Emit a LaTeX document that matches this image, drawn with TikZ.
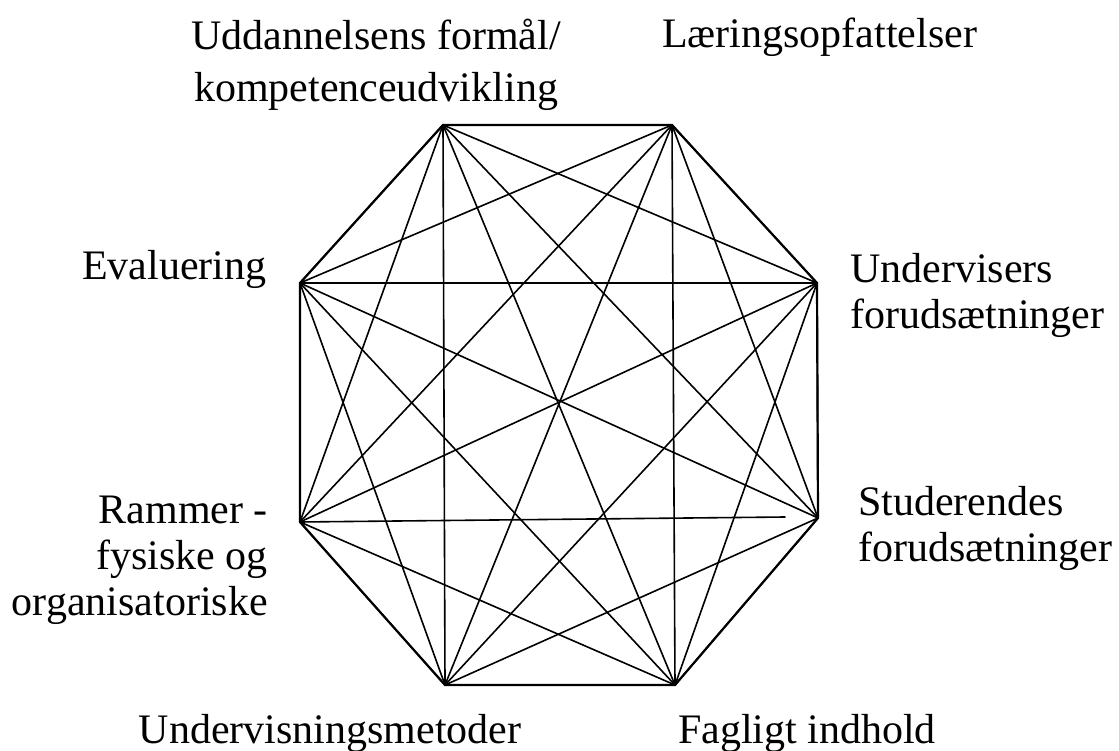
\documentclass[tikz,border=0pt]{standalone}
\usepackage{fontspec}
\setmainfont{Liberation Serif}

\begin{document}
\begin{tikzpicture}[
  x=1pt, y=-1pt,
  font=\fontsize{42}{46}\selectfont,
  lbl/.style={inner sep=0pt},
  edge/.style={line width=1.6pt, black, line cap=round},
  rim/.style={edge, line width=2.2pt}
]
\useasboundingbox (0,0) rectangle (1119,751);
% corners of the octagon
\coordinate (p1) at (443,125); % formaal
\coordinate (p2) at (672,125); % laering
\coordinate (p3) at (817,283); % undviser
\coordinate (p4) at (818,518); % studer
\coordinate (p5) at (675,685); % fagligt
\coordinate (p6) at (445,685); % metoder
\coordinate (p7) at (300,522); % rammer
\coordinate (p8) at (300,283); % evaluer
\coordinate (rammerend) at (785,517);
% labels
\node[lbl, anchor=north, align=center, font=\fontsize{42}{52}\selectfont] (formaal) at (376,19)
  {Uddannelsens formål/\\kompetenceudvikling};
\node[lbl, anchor=base west] (laering) at (662,48) {Læringsopfattelser};
\node[lbl, anchor=north west, align=left] (undviser) at (850,253) {Undervisers\\forudsætninger};
\node[lbl, anchor=north west, align=left] (studer) at (858,486) {Studerendes\\forudsætninger};
\node[lbl, anchor=base] (fagligt) at (807,743) {Fagligt indhold};
\node[lbl, anchor=base] (metoder) at (330,743) {Undervisningsmetoder};
\node[lbl, anchor=north east, align=right] (rammer) at (268,496) {Rammer -\\fysiske og\\organisatoriske};
\node[lbl, anchor=base west] (evaluer) at (82,280) {Evaluering};
% every corner joined to every other
\foreach \i in {1,...,7}{
  \pgfmathtruncatemacro{\k}{\i+1}
  \foreach \j in {\k,...,8}{
    \pgfmathtruncatemacro{\skipit}{and(\i==4,\j==7)}
    \ifnum\skipit=0
      \draw[edge] (p\i) -- (p\j);
    \fi
  }
}
\draw[edge] (p7) -- (rammerend);
% outline of the octagon
\draw[rim] (p1) -- (p2) -- (p3) -- (p4) -- (p5) -- (p6) -- (p7) -- (p8) -- cycle;
\end{tikzpicture}
\end{document}
